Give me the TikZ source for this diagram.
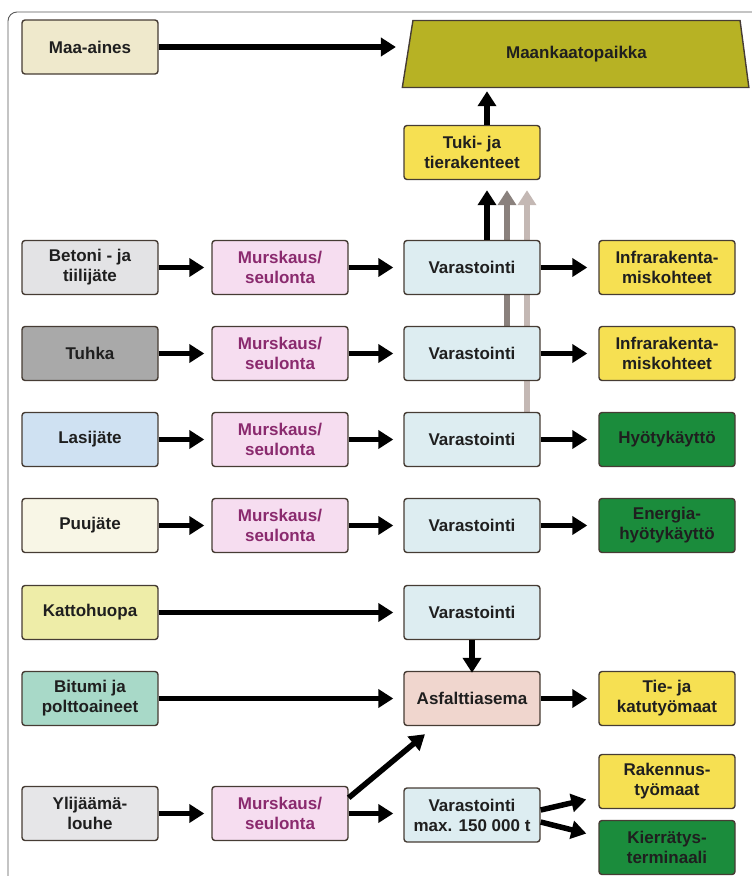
\documentclass[tikz,border=0pt]{standalone}
\usepackage{fontspec}
\setmainfont{Liberation Sans}
\usetikzlibrary{arrows.meta,shapes.geometric,backgrounds}
\definecolor{edge}{HTML}{463C34}
\definecolor{cMaa}{HTML}{EFE9CC}
\definecolor{cBet}{HTML}{E3E3E5}
\definecolor{cTuh}{HTML}{A9A9A9}
\definecolor{cLas}{HTML}{CFE1F2}
\definecolor{cPuu}{HTML}{F8F6E6}
\definecolor{cKat}{HTML}{EEEDA8}
\definecolor{cBit}{HTML}{A8D9C8}
\definecolor{cYli}{HTML}{E6E6E8}
\definecolor{cMur}{HTML}{F6DDF0}
\definecolor{tMur}{HTML}{8A2A6E}
\definecolor{cVar}{HTML}{DDEDF1}
\definecolor{cAsf}{HTML}{F0D6CE}
\definecolor{cYel}{HTML}{F6E052}
\definecolor{cGrn}{HTML}{1B8C3C}
\definecolor{cOlv}{HTML}{B7B224}
\definecolor{gA}{HTML}{8A817D}
\definecolor{gB}{HTML}{C4B8B4}
\tikzset{
  txt/.style={font=\fontsize{17}{20}\selectfont\bfseries, text=black!88},
  box/.style={txt, draw=edge, line width=1.4pt, rounded corners=3pt, minimum width=136pt,
    minimum height=54pt, align=center, inner sep=1pt},
  mur/.style={box, fill=cMur, text=tMur},
  var/.style={box, fill=cVar},
  yel/.style={box, fill=cYel},
  grn/.style={box, fill=cGrn, text=black!88},
  arr/.style={draw=black, line width=5.5pt, -{Triangle[length=15pt,width=18pt]},
    shorten >=7pt},
  garr/.style={arr, shorten >=0pt},
}
\begin{document}
\begin{tikzpicture}[x=1pt,y=-1pt]
\useasboundingbox (0,0) rectangle (752,876);
\clip (0,0) rectangle (752,876);
\draw[gray!70!black, line width=0.9pt, rounded corners=9pt] (8,12) rectangle (780,900);

% top
\node[box, fill=cMaa] (maa) at (90,47) {Maa-aines};
\node[txt, trapezium, draw=edge, line width=1.4pt, fill=cOlv, trapezium left angle=78,
  trapezium right angle=80, trapezium stretches=true, minimum width=347pt,
  minimum height=67pt] (maan) at (576.5,54) {Maankaatopaikka};
\node[yel] (tuki) at (472,152.5) {Tuki- ja\\tierakenteet};

% rows
\node[box, fill=cBet] (bet) at (90,267.5) {Betoni - ja\\tiilijäte};
\node[mur] (m1) at (280,267.5) {Murskaus/\\seulonta};
\node[var] (v1) at (472,267.5) {Varastointi};
\node[yel] (i1) at (667,267.5) {Infrarakenta-\\miskohteet};

\node[box, fill=cTuh] (tuh) at (90,353.5) {Tuhka};
\node[mur] (m2) at (280,353.5) {Murskaus/\\seulonta};
\node[var] (v2) at (472,353.5) {Varastointi};
\node[yel] (i2) at (667,353.5) {Infrarakenta-\\miskohteet};

\node[box, fill=cLas] (las) at (90,439.5) {Lasijäte};
\node[mur] (m3) at (280,439.5) {Murskaus/\\seulonta};
\node[var] (v3) at (472,439.5) {Varastointi};
\node[grn] (hy) at (667,439.5) {Hyötykäyttö};

\node[box, fill=cPuu] (puu) at (90,525.5) {Puujäte};
\node[mur] (m4) at (280,525.5) {Murskaus/\\seulonta};
\node[var] (v4) at (472,525.5) {Varastointi};
\node[grn] (en) at (667,525.5) {Energia-\\hyötykäyttö};

\node[box, fill=cKat] (kat) at (90,612.5) {Kattohuopa};
\node[var] (v5) at (472,612.5) {Varastointi};

\node[box, fill=cBit] (bit) at (90,698.5) {Bitumi ja\\polttoaineet};
\node[box, fill=cAsf] (asf) at (472,698.5) {Asfalttiasema};
\node[yel] (tie) at (667,698.5) {Tie- ja\\katutyömaat};

\node[box, fill=cYli] (yli) at (90,813.5) {Ylijäämä-\\louhe};
\node[mur] (m7) at (280,813.5) {Murskaus/\\seulonta};
\node[var] (v7) at (472,815) {Varastointi\\max. 150 000 t};
\node[yel] (rak) at (667,781.5) {Rakennus-\\työmaat};
\node[grn] (kie) at (667,847.5) {Kierrätys-\\terminaali};

% gray connectors behind boxes
\begin{pgfonlayer}{background}
\draw[garr, draw=gB] ([xshift=55pt]v3.north) -- ([xshift=55pt,yshift=-10pt]tuki.south);
\draw[garr, draw=gA] ([xshift=35pt]v2.north) -- ([xshift=35pt,yshift=-10pt]tuki.south);
\end{pgfonlayer}

% connectors
\draw[arr] (maa.east) -- ([xshift=-4pt]maan.west |- maa.east);
\draw[arr, shorten >=0pt] ([xshift=15pt]tuki.north) -- ([xshift=15pt,yshift=-3pt]tuki.north |- maan.south);
\draw[arr, shorten >=0pt] ([xshift=15pt]v1.north) -- ([xshift=15pt,yshift=-10pt]tuki.south);

\foreach \a/\b/\c/\d in {bet/m1/v1/i1, tuh/m2/v2/i2, las/m3/v3/hy, puu/m4/v4/en}{
  \draw[arr] (\a.east) -- (\b.west);
  \draw[arr, shorten >=10pt] (\b.east) -- (\c.west);
  \draw[arr, shorten >=11pt] (\c.east) -- (\d.west);
}
\draw[arr, shorten >=10pt] (kat.east) -- (v5.west);
\draw[arr, shorten >=0pt] (v5.south) -- ([yshift=-2pt]asf.north);
\draw[arr, shorten >=10pt] (bit.east) -- (asf.west);
\draw[arr, shorten >=11pt] (asf.east) -- (tie.west);
\draw[arr] (yli.east) -- (m7.west);
\draw[arr, shorten >=10pt] (m7.east) -- (m7.east -| v7.west);
\draw[arr, shorten >=0pt] ([yshift=-12pt]m7.north east) -- ([xshift=-47pt,yshift=-8pt]asf.south);
\draw[arr, shorten >=0pt] ([yshift=5pt]v7.east) -- ([xshift=-12pt,yshift=-18pt]rak.west);
\draw[arr, shorten >=0pt] ([yshift=-7pt]v7.east) -- ([xshift=-12pt,yshift=14pt]kie.west);
\end{tikzpicture}
\end{document}
